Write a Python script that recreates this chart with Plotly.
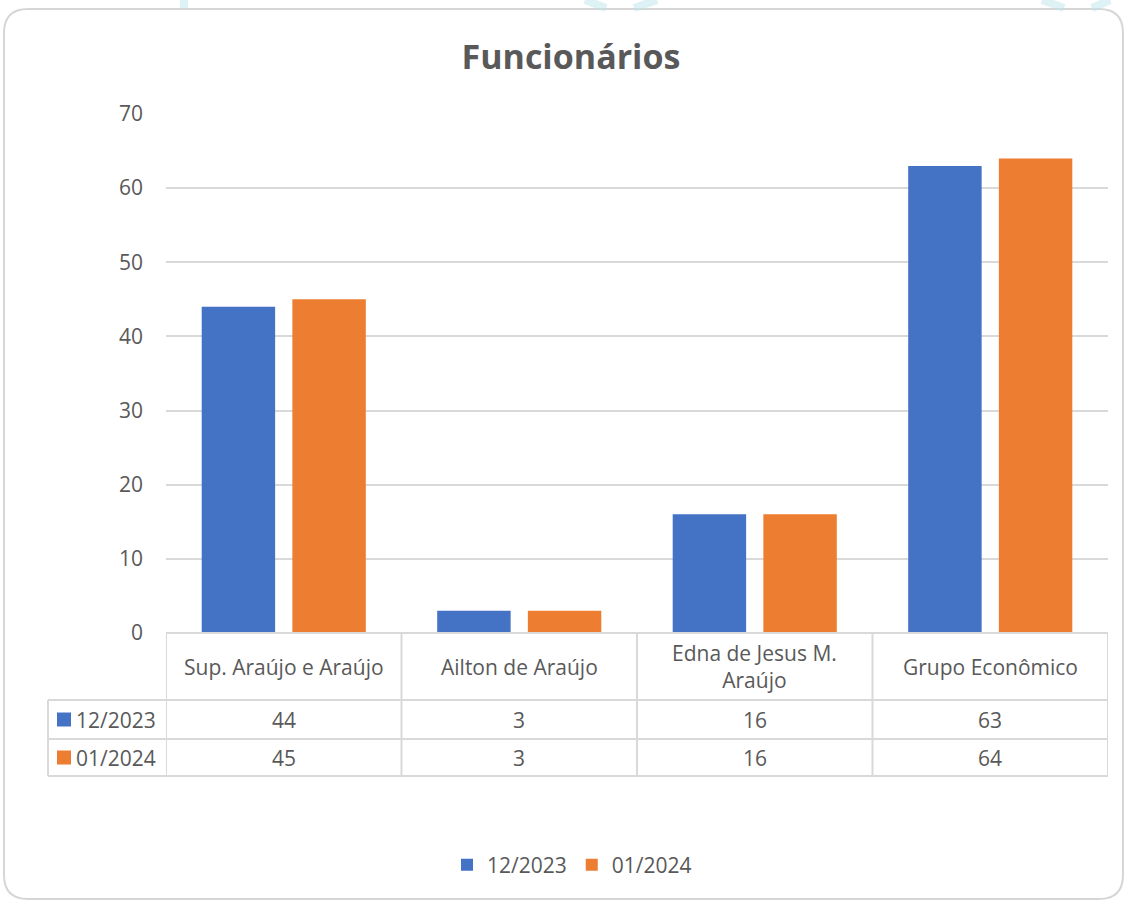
import plotly.graph_objects as go

# ---- data ----
categories = ["Sup. Araújo e Araújo", "Ailton de Araújo", "Edna de Jesus M. Araújo", "Grupo Econômico"]
category_labels = ["Sup. Araújo e Araújo", "Ailton de Araújo", "Edna de Jesus M.<br>Araújo", "Grupo Econômico"]
series_names = ["12/2023", "01/2024"]
values_dec_2023 = [44, 3, 16, 63]
values_jan_2024 = [45, 3, 16, 64]
y_ticks = [0, 10, 20, 30, 40, 50, 60, 70]

colors = ["#4472C4", "#ED7D31"]
text_color = "#595959"
grid_color = "#D9D9D9"
FONT = "Open Sans"

W, H = 1127, 902
ML, MR, MT, MB = 166, 19, 114, 269
PW = W - ML - MR
PH = H - MT - MB


def px(x):
    return (x - ML) / PW


def py(y):
    return (H - MB - y) / PH


fig = go.Figure()
for name, vals, col in zip(series_names, [values_dec_2023, values_jan_2024], colors):
    fig.add_trace(go.Bar(
        x=categories, y=vals, name=name,
        marker=dict(color=col, line=dict(width=0)),
        hoverinfo="x+y+name",
    ))

shapes = []
annotations = []
line = dict(color=grid_color, width=2)

# card border (rounded rect)
L, R, T, B, r = 4, 1123, 9, 899, 24
path = (f"M {px(L+r)},{py(T)} L {px(R-r)},{py(T)} Q {px(R)},{py(T)} {px(R)},{py(T+r)} "
        f"L {px(R)},{py(B-r)} Q {px(R)},{py(B)} {px(R-r)},{py(B)} "
        f"L {px(L+r)},{py(B)} Q {px(L)},{py(B)} {px(L)},{py(B-r)} "
        f"L {px(L)},{py(T+r)} Q {px(L)},{py(T)} {px(L+r)},{py(T)} Z")
shapes.append(dict(type="path", xref="paper", yref="paper", path=path,
                   line=dict(color="#D6D6D6", width=2), fillcolor="rgba(0,0,0,0)", layer="below"))

# faint cyan decorations above the card
deco = dict(color="rgba(190,228,234,0.5)", width=8)
for (x0, y0, x1, y1) in [(184, 0, 184, 8), (585, 0, 606, 8), (657, 0, 634, 8),
                         (1042, 0, 1064, 8), (1110, 0, 1092, 8)]:
    shapes.append(dict(type="line", xref="paper", yref="paper",
                       x0=px(x0), y0=py(y0), x1=px(x1), y1=py(y1), line=deco, layer="below"))

# data table grid
n = len(categories)
row_tops = [633, 700, 739, 776]
shapes.append(dict(type="line", xref="x", yref="paper", x0=-0.5, x1=n - 0.5,
                   y0=py(633), y1=py(633), line=line))
for yy in row_tops[1:]:
    shapes.append(dict(type="line", xref="paper", yref="paper", x0=px(48), x1=1,
                       y0=py(yy), y1=py(yy), line=line))
shapes.append(dict(type="line", xref="paper", yref="paper", x0=px(48), x1=px(48),
                   y0=py(700), y1=py(776), line=line))
for i in range(n + 1):
    shapes.append(dict(type="line", xref="x", yref="paper", x0=i - 0.5, x1=i - 0.5,
                       y0=py(633), y1=py(776), line=line))

tfont = dict(family=FONT, size=21, color=text_color)

# header labels
for cat, lab in zip(categories, category_labels):
    annotations.append(dict(x=cat, xref="x", y=py(666.5), yref="paper", text=lab,
                            showarrow=False, font=tfont, xanchor="center", yanchor="middle"))

# value rows
row_centers = [719.5, 757.5]
for vals, yc, name, col in zip([values_dec_2023, values_jan_2024], row_centers, series_names, colors):
    for cat, v in zip(categories, vals):
        annotations.append(dict(x=cat, xref="x", y=py(yc), yref="paper", text=str(v),
                                showarrow=False, font=tfont, xanchor="center", yanchor="middle"))
    shapes.append(dict(type="rect", xref="paper", yref="paper",
                       x0=px(57), x1=px(71), y0=py(yc - 7), y1=py(yc + 7),
                       fillcolor=col, line=dict(width=0)))
    annotations.append(dict(x=px(74), xref="paper", y=py(yc), yref="paper", text=name,
                            showarrow=False, font=tfont, xanchor="left", yanchor="middle"))

fig.update_layout(
    width=W, height=H, autosize=False,
    margin=dict(l=ML, r=MR, t=MT, b=MB, pad=0),
    paper_bgcolor="white", plot_bgcolor="white",
    title=dict(text="<b>Funcionários</b>", x=571 / W, xanchor="center",
               y=1 - 57 / H, yanchor="middle", yref="container",
               font=dict(family=FONT, size=34, color=text_color)),
    barmode="group", bargap=0.23, bargroupgap=0.19,
    showlegend=True,
    legend=dict(orientation="h", xref="container", yref="container",
                x=572 / W, xanchor="center", y=1 - 865 / H, yanchor="middle",
                font=dict(family=FONT, size=21, color=text_color),
                itemwidth=30, traceorder="normal"),
    xaxis=dict(showticklabels=False, showgrid=False, zeroline=False, showline=False,
               ticks="", range=[-0.5, n - 0.5]),
    yaxis=dict(range=[0, 70], tickvals=y_ticks, showgrid=True, gridcolor=grid_color,
               gridwidth=1.5, zeroline=False, showline=False, ticks="",
               ticklabelstandoff=22,
               tickfont=dict(family=FONT, size=21, color=text_color)),
    shapes=shapes, annotations=annotations,
    font=dict(family=FONT, color=text_color),
)

fig.write_html("out.html", config={"displayModeBar": False},
               post_script="document.body.style.margin='0';document.body.style.overflow='hidden';")
